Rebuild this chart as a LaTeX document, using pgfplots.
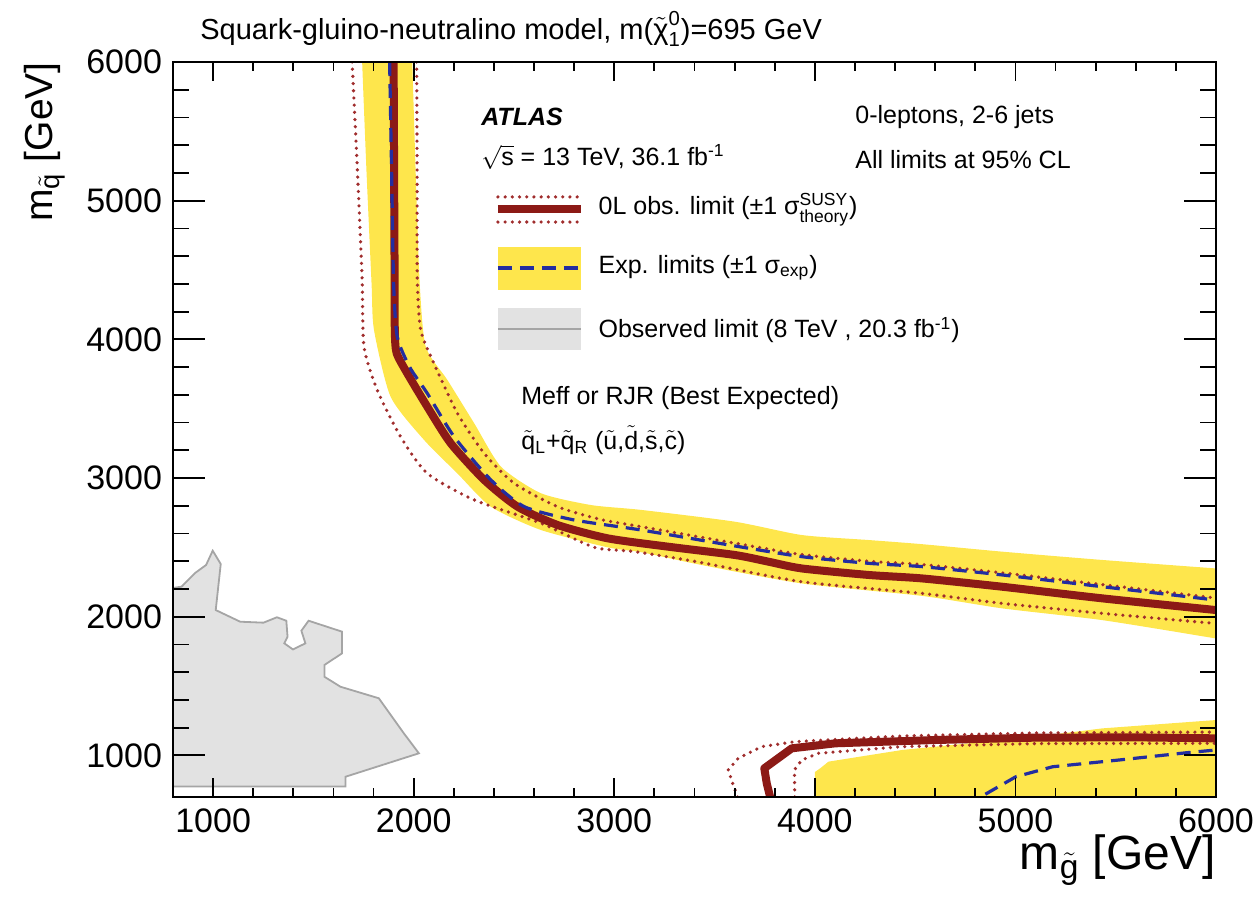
\documentclass[border=0pt]{standalone}
\usepackage{fontspec}
\setmainfont{Liberation Sans}
\usepackage{amsmath}
\usepackage{pgfplots}
\pgfplotsset{compat=1.18}
\usepgfplotslibrary{fillbetween}
\definecolor{band}{RGB}{254,230,76}
\definecolor{obsred}{RGB}{140,26,22}
\definecolor{dotred}{RGB}{160,45,45}
\definecolor{expblue}{RGB}{35,45,160}
\definecolor{greyfill}{RGB}{226,226,226}
\definecolor{greyline}{RGB}{165,165,165}
\newcommand\tl[1]{$\tilde{\text{#1}}$}
\tikzset{dots/.style={dotred, line width=1.8pt, line cap=round, dash pattern=on 0pt off 3.6pt}}
\begin{document}
\begin{tikzpicture}
\begin{axis}[
  scale only axis, width=521.5pt, height=367.5pt,
  xmin=800, xmax=6000, ymin=700, ymax=6000,
  xtick={1000,2000,3000,4000,5000,6000},
  ytick={1000,2000,3000,4000,5000,6000},
  minor tick num=4,
  tick align=inside, xtick pos=both, ytick pos=both,
  axis line style={line width=1pt},
  every tick/.style={black, line width=0.9pt},
  xtick style={/pgfplots/major tick length=9.5pt, /pgfplots/minor tick length=4.5pt},
  ytick style={/pgfplots/major tick length=16pt, /pgfplots/minor tick length=8pt},
  /pgf/number format/assume math mode=true,
  /pgf/number format/1000 sep={},
  ticklabel style={font=\fontsize{17}{20}\selectfont},
  xticklabel style={yshift=-2.5pt},
  yticklabel style={xshift=-2pt},
  axis on top,
  xlabel={m\textsubscript{\tl{g}} [GeV]},
  xlabel style={at={(axis description cs:1,-0.0857)}, anchor=east, inner sep=0pt, font=\fontsize{24}{29}\selectfont},
  ylabel={m\textsubscript{\tl{q}} [GeV]},
  ylabel style={at={(axis description cs:-0.1227,1)}, anchor=east, inner sep=0pt, rotate=0, font=\fontsize{19.5}{23}\selectfont},
]
% expected band (upper)
\addplot[name path=bandA, draw=none, smooth, tension=0.4] coordinates {
(1993,6050) (1993,6000) (2010,5200) (2030,4400) (2060,3947) (2168,3707) (2302,3394) (2435,3082)
(2635,2890) (2885,2805) (3135,2770) (3602,2685) (3935,2589) (4268,2553) (4535,2523)
(4935,2469) (5435,2409) (6000,2348) (6050,2342)
};
\addplot[name path=bandB, draw=none, smooth, tension=0.4] coordinates {
(1743,6050) (1743,6000) (1765,5200) (1790,4400) (1802,4068) (1885,3586) (2052,3274)
(2218,3033) (2385,2793) (2635,2625) (2968,2500) (3135,2465) (3435,2373) (3935,2240)
(4535,2150) (4935,2060) (5435,1975) (6000,1843) (6050,1830)
};
\addplot[band] fill between[of=bandA and bandB];
% expected band (lower)
\addplot[fill=band, draw=none] coordinates {
(4000,650) (4000,880) (4015,895) (4027,907) (4068,955) (4435,1039) (5102,1135) (5435,1195)
(6000,1255) (6050,1260) (6050,650)
} -- cycle;
% 8 TeV observed
\addplot[fill=greyfill, draw=greyline, line width=0.9pt] coordinates {
(750,2207) (800,2207) (843,2217) (910,2315) (965,2373) (998,2476) (1038,2380) (1013,2048)
(1135,1964) (1251,1957) (1318,1996) (1365,1971) (1371,1856) (1355,1808) (1398,1764)
(1460,1808) (1440,1899) (1476,1971) (1643,1892) (1643,1736) (1555,1652) (1555,1567)
(1635,1495) (1826,1412) (1951,1159) (2026,1015) (1660,846) (1660,775) (800,775) (750,775)
} -- cycle;
% theory dotted lines
\addplot[dots, smooth, tension=0.4] coordinates {
(1693,6000) (1720,5200) (1743,4428) (1752,3947) (1818,3635) (1935,3297) (2068,3033)
(2302,2842) (2635,2674) (2900,2500) (3100,2470) (3435,2390) (3935,2252) (4535,2168)
(4935,2096) (5435,2024) (6000,1951)
};
\addplot[dots, smooth, tension=0.4] coordinates {
(2015,6000) (2017,5200) (2018,4428) (2035,4068) (2093,3851) (2218,3467) (2352,3177)
(2502,2961) (2718,2793) (2935,2700) (3135,2649) (3602,2530) (3935,2448) (4268,2400)
(4535,2376) (4935,2316) (5435,2231) (6000,2135)
};
\addplot[dots] coordinates {
(3615,700) (3590,800) (3568,895) (3618,979) (3735,1063) (3902,1099) (4435,1140)
(5102,1162) (6000,1168)
};
\addplot[dots] coordinates {
(3900,700) (3898,895) (3935,967) (4018,1015) (4435,1063) (5102,1085) (6000,1087)
};
% observed 13 TeV
\addplot[obsred, line width=4pt, smooth, tension=0.4] coordinates {
(1900,6000) (1903,5000) (1905,4400) (1906,4050) (1915,3900) (1968,3755) (2068,3514)
(2185,3250) (2352,2986) (2518,2793) (2718,2661) (2968,2565) (3268,2505) (3602,2445)
(3768,2397) (3935,2348) (4268,2301) (4535,2276) (4935,2216) (5435,2132) (6000,2048)
};
\addplot[obsred, line width=4pt, line join=round] coordinates {
(3777,700) (3760,800) (3748,907) (3885,1051) (4102,1087) (4602,1111) (5102,1128)
(5602,1130) (6000,1123)
};
% expected
\addplot[expblue, line width=1.6pt, dash pattern=on 7pt off 4pt, smooth, tension=0.4] coordinates {
(1880,6000) (1890,5200) (1900,4400) (1918,4019) (1980,3800) (2068,3610) (2202,3297)
(2385,2986) (2552,2793) (2802,2697) (3135,2625) (3602,2510) (3935,2433) (4268,2385)
(4535,2361) (4935,2301) (5435,2216) (6000,2120)
};
\addplot[expblue, line width=1.6pt, dash pattern=on 7pt off 4pt] coordinates {
(4850,720) (5002,846) (5185,918) (5518,967) (5852,1019) (6000,1039)
};
% legend
\node[anchor=west, font=\fontsize{12.5}{15}\selectfont\bfseries\itshape, inner sep=0pt] at (axis cs:2335,5604) {ATLAS};
\node[anchor=west, font=\fontsize{12.5}{15}\selectfont, inner sep=0pt] at (axis cs:2335,5315) {$\sqrt{\text{s}}$ = 13 TeV, 36.1 fb$^{\text{-1}}$};
\node[anchor=west, font=\fontsize{12.5}{15}\selectfont, inner sep=0pt] at (axis cs:4200,5604) {0-leptons, 2-6 jets};
\node[anchor=west, font=\fontsize{12.5}{15}\selectfont, inner sep=0pt] at (axis cs:4200,5294) {All limits at 95\% CL};
\draw[dots] (axis cs:2420,5027) -- (axis cs:2835,5027);
\draw[dots] (axis cs:2420,4846) -- (axis cs:2835,4846);
\draw[obsred, line width=4pt] (axis cs:2420,4940) -- (axis cs:2835,4940);
\node[anchor=west, font=\fontsize{12.5}{15}\selectfont, inner sep=0pt] at (axis cs:2920,4933) {0L obs. limit (±1 $\text{σ}^{\text{SUSY}}_{\text{theory}}$)};
\fill[band] (axis cs:2420,4356) rectangle (axis cs:2835,4666);
\draw[expblue, line width=1.6pt, dash pattern=on 7pt off 4pt] (axis cs:2420,4515) -- (axis cs:2835,4515);
\node[anchor=west, font=\fontsize{12.5}{15}\selectfont, inner sep=0pt] at (axis cs:2920,4515) {Exp. limits (±1 $\text{σ}_{\text{exp}}$)};
\fill[greyfill] (axis cs:2420,3923) rectangle (axis cs:2835,4226);
\draw[greyline, line width=0.9pt] (axis cs:2420,4075) -- (axis cs:2835,4075);
\node[anchor=west, font=\fontsize{12.5}{15}\selectfont, inner sep=0pt] at (axis cs:2920,4068) {Observed limit (8 TeV , 20.3 fb$^{\text{-1}}$)};
\node[anchor=west, font=\fontsize{12.5}{15}\selectfont, inner sep=0pt] at (axis cs:2535,3577) {Meff or RJR (Best Expected)};
\node[anchor=west, font=\fontsize{12.5}{15}\selectfont, inner sep=0pt] at (axis cs:2535,3274) {\tl{q}$_{\text{L}}$+\tl{q}$_{\text{R}}$ (\tl{u},\tl{d},\tl{s},\tl{c})};
\end{axis}
\node[anchor=west, font=\fontsize{14.5}{17}\selectfont, inner sep=0pt] at ([shift={(13.5pt,398.5pt-14.5pt)}]current axis.south west) {Squark-gluino-neutralino model, m($\tilde{\text{χ}}^{\text{0}}_{\text{1}}$)=695 GeV};
\pgfresetboundingbox
\path ([shift={(-86.5pt,-50.5pt)}]current axis.south west) rectangle ([shift={(542pt,398.5pt)}]current axis.south west);
\end{tikzpicture}
\end{document}
